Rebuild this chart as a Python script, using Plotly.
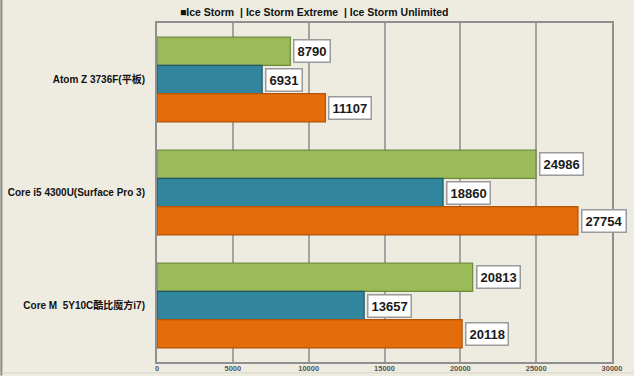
import plotly.graph_objects as go

categories = ["Atom Z 3736F(平板)", "Core i5 4300U(Surface Pro 3)", "Core M  5Y10C酷比魔方i7)"]
series_names = ["Ice Storm", "Ice Storm Extreme", "Ice Storm Unlimited"]
ice_storm = [8790, 24986, 20813]
ice_storm_extreme = [6931, 18860, 13657]
ice_storm_unlimited = [11107, 27754, 20118]
x_ticks = [0, 5000, 10000, 15000, 20000, 25000, 30000]

series_values = [ice_storm, ice_storm_extreme, ice_storm_unlimited]
fill_colors = ["#9BBB59", "#31859C", "#E46C0A"]
line_colors = ["#6E8B3D", "#205867", "#B25508"]
BG = "#EEECE1"
BARGAP = 0.25
n_series = len(series_names)
bar_w = (1 - BARGAP) / n_series

fig = go.Figure()
for name, vals, fc, lc in zip(series_names, series_values, fill_colors, line_colors):
    fig.add_trace(go.Bar(
        y=categories, x=vals, name=name, orientation="h",
        marker=dict(color=fc, line=dict(color=lc, width=1.2)),
        showlegend=False, hoverinfo="x+name",
    ))

annotations = []
for k, vals in enumerate(series_values):
    for i, v in enumerate(vals):
        annotations.append(dict(
            x=v, y=i + (k - (n_series - 1) / 2) * bar_w, xref="x", yref="y",
            text=f"{v}", showarrow=False, xanchor="left", yanchor="middle",
            xshift=3,
            font=dict(family="Liberation Sans", size=13, color="#1a1a1a", weight="bold"),
            bgcolor="#FFFFFF", bordercolor="#9A9A9A", borderwidth=1.5, borderpad=3,
        ))

annotations.append(dict(
    x=0.345, y=1, xref="paper", yref="paper", xanchor="center", yanchor="bottom",
    yshift=3, showarrow=False,
    text="■Ice Storm  | Ice Storm Extreme  | Ice Storm Unlimited",
    font=dict(family="Liberation Sans", size=10.5, color="#111111", weight="bold"),
))

fig.update_layout(
    width=634, height=376,
    margin=dict(l=157, r=22, t=23, b=14),
    paper_bgcolor=BG, plot_bgcolor=BG,
    barmode="group", bargap=BARGAP, bargroupgap=0,
    annotations=annotations,
    xaxis=dict(
        range=[0, 30000], tickvals=x_ticks, ticktext=[str(t) for t in x_ticks],
        showgrid=True, gridcolor="#A3A3A3", gridwidth=1.5,
        showline=True, linecolor="#8F8F8F", linewidth=2, mirror=True,
        zeroline=False, ticks="", ticklabelstandoff=-2, automargin=False,
        tickfont=dict(family="Liberation Sans", size=7.5, color="#555555", weight="bold"),
    ),
    yaxis=dict(
        categoryorder="array", categoryarray=categories, autorange="reversed",
        showgrid=False, showline=True, linecolor="#8F8F8F", linewidth=2, mirror=True,
        ticks="", ticklabelstandoff=8, automargin=False,
        tickfont=dict(family="Liberation Sans, Noto Sans CJK SC", size=10, color="#111111", weight="bold"),
    ),
    shapes=[
        dict(type="line", xref="paper", yref="paper", x0=-0.342, x1=-0.342, y0=-0.04, y1=1.07,
             line=dict(color="#8A8A8A", width=2)),
        dict(type="line", xref="paper", yref="paper", x0=-0.342, x1=1.05, y0=-0.032, y1=-0.032,
             line=dict(color="#D8D6CC", width=1)),
    ],
)

fig.write_html(
    "out.html",
    config={"displayModeBar": False},
    post_script="document.body.style.margin='0';document.body.style.overflow='hidden';",
)
